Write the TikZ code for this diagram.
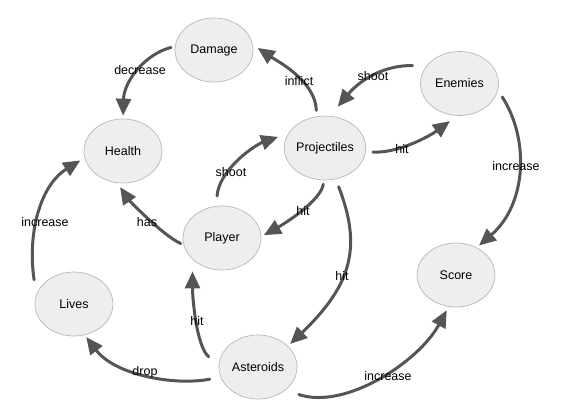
\documentclass[tikz,border=0pt]{standalone}
\usepackage{fontspec}
\setmainfont{Liberation Sans}
\usetikzlibrary{shapes.geometric,arrows.meta}
\definecolor{nodefill}{HTML}{EEEEEE}
\definecolor{nodeline}{HTML}{B8B8B8}
\definecolor{edgecol}{HTML}{555555}
\tikzset{
  ent/.style={ellipse, draw=nodeline, line width=0.7pt, fill=nodefill,
    minimum width=78pt, minimum height=64pt, inner sep=0pt,
    font=\fontsize{12.5pt}{14pt}\selectfont},
  rel/.style={draw=edgecol, line width=3pt, line cap=round,
    -{Triangle[length=17pt,width=15pt]}},
  lbl/.style={font=\fontsize{12.5pt}{14pt}\selectfont, inner sep=0pt, text=black}
}
\begin{document}
\begin{tikzpicture}[x=1pt,y=-1pt]
\fill[white] (0,0) rectangle (574,418);
\useasboundingbox (0,0) rectangle (574,418);

\node[ent] (Damage) at (214,50) {Damage};
\node[ent] (Health) at (123,151) {Health};
\node[ent] (Enemies) at (459.5,83.5) {Enemies};
\node[ent] (Projectiles) at (325,148) {Projectiles};
\node[ent] (Player) at (222,238) {Player};
\node[ent] (Lives) at (74,304) {Lives};
\node[ent] (Asteroids) at (258,367) {Asteroids};
\node[ent] (Score) at (456,275) {Score};

\draw[rel, shorten <=4pt, shorten >=3pt] (Damage.175) .. controls +(-29,7) and +(1,-38) .. (Health.90)
  node[lbl] (l1) at (140,70) {decrease};
\draw[rel, shorten <=6pt, shorten >=6pt] (Projectiles.105) .. controls +(-1,-36) and +(22,15) .. (Damage.8)
  node[lbl] (l2) at (299,81) {inflict};
\draw[rel, shorten <=14pt, shorten >=12pt] (Enemies.152) .. controls +(-42,-1) and +(30,-36) .. (Projectiles.81)
  node[lbl] (l3) at (373,76) {shoot};
\draw[rel, shorten <=7pt, shorten >=9pt] (Projectiles.-5) .. controls +(30,2) and +(-30,22) .. (Enemies.266)
  node[lbl] (l4) at (402,149) {hit};
\draw[rel, shorten <=8pt, shorten >=3pt] (Enemies.-10) .. controls +(32,50) and +(49.5,-42.8) .. (Score.53)
  node[lbl] (l5) at (516,166) {increase};
\draw[rel, shorten <=10pt, shorten >=11pt] (Player.100) .. controls +(2.6,-36.3) and +(-34,12) .. (Projectiles.158)
  node[lbl] (l6) at (231,172) {shoot};
\draw[rel, shorten <=3pt, shorten >=5pt] (Player.190) .. controls +(-22,-10) and +(10,15) .. (Health.260)
  node[lbl] (l7) at (147,222) {has};
\draw[rel, shorten <=4pt, shorten >=3pt] (Projectiles.268) .. controls +(-3,20) and +(25,-14) .. (Player.2)
  node[lbl] (l8) at (303,211) {hit};
\draw[rel, shorten <=8pt, shorten >=3pt] (Projectiles.289) .. controls +(26,67) and +(64.5,-61.6) .. (Asteroids.35)
  node[lbl] (l9) at (342,276) {hit};
\draw[rel, shorten <=13pt, shorten >=12pt] (Asteroids.177) .. controls +(-22,-18) and +(0,40) .. (Player.216)
  node[lbl] (l10) at (197,321) {hit};
\draw[rel, shorten <=11pt, shorten >=2.5pt] (Asteroids.195) .. controls +(-46,9) and +(30.4,40) .. (Lives.289)
  node[lbl] (l11) at (145,372) {drop};
\draw[rel, shorten <=15pt, shorten >=5pt] (Lives.166) .. controls +(-9,-60) and +(-45,28) .. (Health.190)
  node[lbl] (l12) at (45,222) {increase};
\draw[rel, shorten <=14pt, shorten >=4pt] (Asteroids.320) .. controls +(60,20) and +(-30,55) .. (Score.257)
  node[lbl] (l13) at (388,376) {increase};
\end{tikzpicture}
\end{document}
